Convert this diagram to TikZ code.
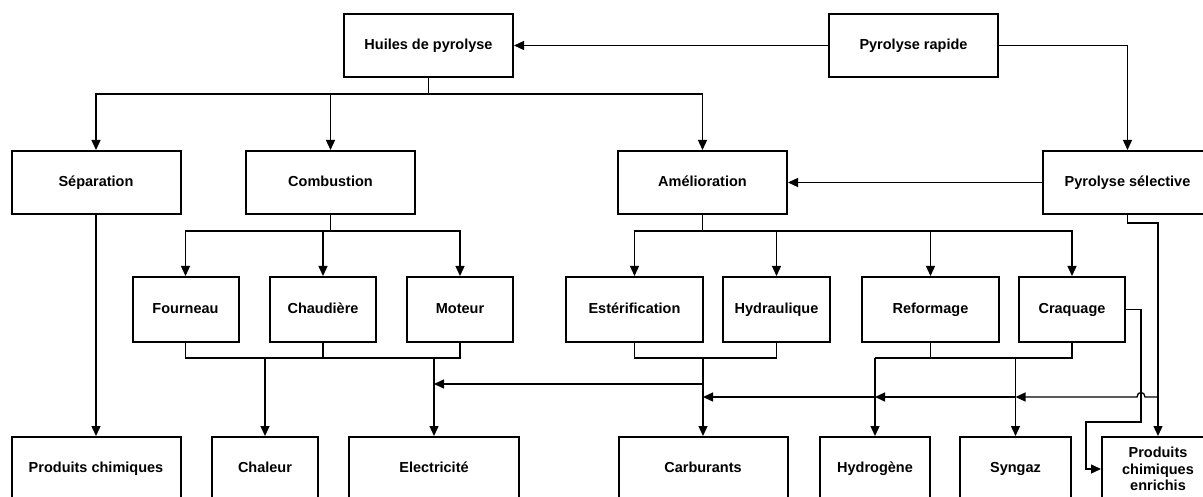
\documentclass[tikz,border=0pt]{standalone}
\usepackage{fontspec}
\setmainfont{Liberation Sans}
\usetikzlibrary{arrows.meta}
\tikzset{
  boxbase/.style={draw, line width=2pt, fill=white, inner sep=0pt, align=center,
    font=\fontsize{14.5}{16.5}\selectfont\bfseries},
  box/.style={boxbase, text height=10.5pt, text depth=3pt},
  arr/.style={line width=1.3pt, -{Triangle[length=10pt,width=9pt]}},
  ln/.style={line width=1.3pt},
}
\begin{document}
\begin{tikzpicture}[x=1pt,y=-1pt]
\useasboundingbox (0,0) rectangle (1203,497);
\clip (0,0) rectangle (1203,497);
% row 1
\node[box, minimum width=169pt, minimum height=63pt] (huiles) at (428.5,45.5) {Huiles de pyrolyse};
\node[box, minimum width=169pt, minimum height=63pt] (rapide) at (913.5,45.5) {Pyrolyse rapide};
% row 2
\node[box, minimum width=169pt, minimum height=63pt] (sep) at (96,182.5) {Séparation};
\node[box, minimum width=169pt, minimum height=63pt] (comb) at (330.5,182.5) {Combustion};
\node[box, minimum width=169pt, minimum height=63pt] (amel) at (702.5,182.5) {Amélioration};
\node[box, minimum width=169pt, minimum height=63pt] (psel) at (1127.5,182.5) {Pyrolyse sélective};
% row 3
\node[box, minimum width=106pt, minimum height=65pt] (four) at (185.5,309.5) {Fourneau};
\node[box, minimum width=106pt, minimum height=65pt] (chaud) at (323,309.5) {Chaudière};
\node[box, minimum width=106pt, minimum height=65pt] (mot) at (460,309.5) {Moteur};
\node[box, minimum width=137pt, minimum height=65pt] (est) at (634.5,309.5) {Estérification};
\node[box, minimum width=107pt, minimum height=65pt] (hyd) at (776.5,309.5) {Hydraulique};
\node[box, minimum width=137pt, minimum height=65pt] (ref) at (930.5,309.5) {Reformage};
\node[box, minimum width=106pt, minimum height=65pt] (craq) at (1072,309.5) {Craquage};
% row 4
\node[box, minimum width=169pt, minimum height=64pt] (pc) at (96,469) {Produits chimiques};
\node[box, minimum width=106pt, minimum height=64pt] (chal) at (265,469) {Chaleur};
\node[box, minimum width=170pt, minimum height=64pt] (elec) at (434,469) {Electricité};
\node[box, minimum width=169pt, minimum height=64pt] (carb) at (703,469) {Carburants};
\node[box, minimum width=110pt, minimum height=64pt] (hydro) at (875,469) {Hydrogène};
\node[box, minimum width=111pt, minimum height=64pt] (syn) at (1015.5,469) {Syngaz};
\node[boxbase, minimum width=112pt, minimum height=64pt] (pce) at (1158,469) {Produits\\chimiques\\enrichis};
% helper coordinates
\coordinate (busA) at (0,358);
\coordinate (busB) at (0,384);
\coordinate (busC) at (0,397);
\coordinate (k1) at (1141,422);
\coordinate (k2) at (1086,422);
\coordinate (h1) at (1145,397);
\coordinate (h2) at (1137,397);
% top connectors
\draw[arr] (rapide.west) -- (huiles.east);
\draw[arr] (rapide.east) -| (psel.north);
\draw[arr] (huiles.south) -- ++(0,16) -| (sep.north);
\draw[arr] (huiles.south) -- ++(0,16) -| (comb.north);
\draw[arr] (huiles.south) -- ++(0,16) -| (amel.north);
\draw[arr] (psel.west) -- (amel.east);
\draw[arr] (sep.south) -- (pc.north);
% combustion
\draw[arr] (comb.south) -- ++(0,16) -| (four.north);
\draw[arr] (comb.south) -- ++(0,16) -| (chaud.north);
\draw[arr] (comb.south) -- ++(0,16) -| (mot.north);
% amelioration
\draw[arr] (amel.south) -- ++(0,16) -| (est.north);
\draw[arr] (amel.south) -- ++(0,16) -| (hyd.north);
\draw[arr] (amel.south) -- ++(0,16) -| (ref.north);
\draw[arr] (amel.south) -- ++(0,16) -| (craq.north);
% lower buses
\draw[ln] (four.south) |- (mot.south |- busA) -- (mot.south);
\draw[ln] (chaud.south) -- (chaud.south |- busA);
\draw[arr] (chal.north |- busA) -- (chal.north);
\draw[arr] (elec.north |- busA) -- (elec.north);
\draw[ln] (est.south) |- (hyd.south |- busA) -- (hyd.south);
\draw[arr] (carb.north |- busA) -- (carb.north);
\draw[ln] (hydro.north |- busA) -| (craq.south);
\draw[ln] (ref.south) -- (ref.south |- busA);
\draw[arr] (hydro.north |- busA) -- (hydro.north);
\draw[arr] (syn.north |- busA) -- (syn.north);
\draw[arr] (carb.north |- busB) -- (elec.north |- busB);
% pyrolyse selective to enriched chemicals
\draw[arr] (psel.south) -- ++(0,8) -| (pce.north);
\draw[arr] (pce.north |- busC) -- (h1) .. controls +(0,-6) and +(0,-6) .. (h2) -- (syn.north |- busC);
\draw[arr] (syn.north |- busC) -- (hydro.north |- busC);
\draw[arr] (hydro.north |- busC) -- (carb.north |- busC);
% craquage to enriched chemicals
\draw[arr] (craq.east) -| (k1) -- (k2) |- (pce.west);
\end{tikzpicture}
\end{document}
